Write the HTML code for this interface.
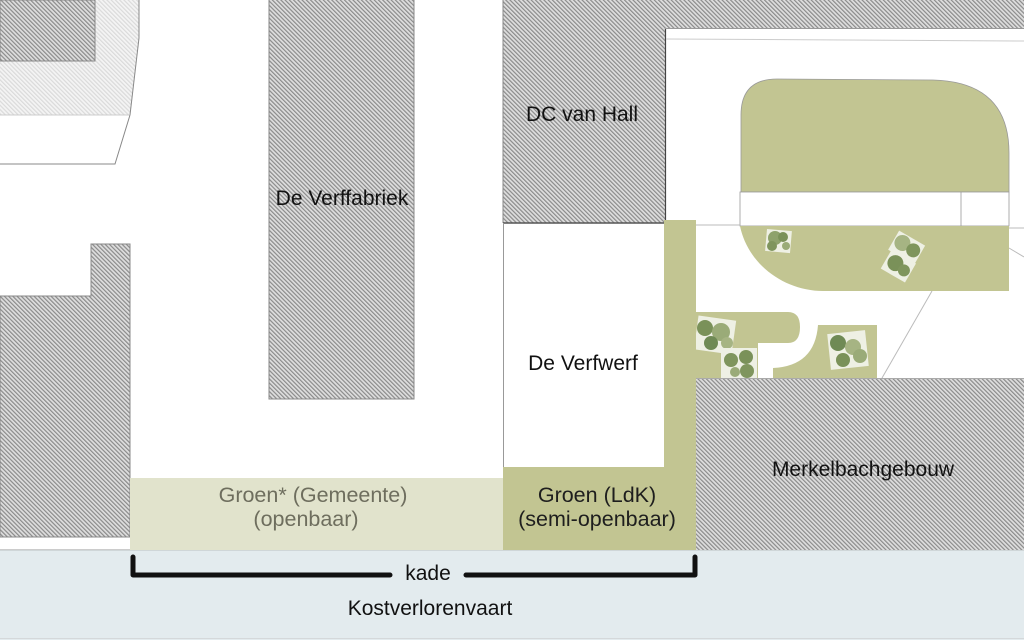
<!DOCTYPE html>
<html><head><meta charset="utf-8"><style>
html,body{margin:0;padding:0;background:#fff;}
svg{display:block;}
text{font-family:"Liberation Sans",sans-serif;}
</style></head><body>
<svg width="1024" height="640" viewBox="0 0 1024 640" xmlns="http://www.w3.org/2000/svg">
<defs>
<pattern id="h" width="3" height="3" patternUnits="userSpaceOnUse" patternTransform="rotate(-45)">
<rect width="3" height="3" fill="#dedede"/><rect width="1.2" height="3" fill="#8a8a8a"/>
</pattern>
<pattern id="hl" width="3" height="3" patternUnits="userSpaceOnUse" patternTransform="rotate(-45)">
<rect width="3" height="3" fill="#f4f4f4"/><rect width="1.2" height="3" fill="#dadada"/>
</pattern>
</defs>
<rect width="1024" height="640" fill="#fff"/>

<!-- top-left light hatched area -->
<path d="M0,0 L139,0 L139,38 L130,115 L0,115 Z" fill="url(#hl)"/>
<path d="M139,0 L139,38 L130,115" fill="none" stroke="#888" stroke-width="1"/>
<line x1="0" y1="115" x2="130" y2="115" stroke="#ccc" stroke-width="1"/>
<rect x="0" y="0" width="95" height="61" fill="url(#h)" stroke="#888" stroke-width="1"/>
<path d="M0,164 L115,164 L130,115" fill="none" stroke="#888" stroke-width="1"/>

<!-- left lower building -->
<path d="M0,296 L91,296 L91,244 L130,244 L130,537 L0,537 Z" fill="url(#h)" stroke="#888" stroke-width="1"/>
<line x1="0" y1="550" x2="130" y2="550" stroke="#999" stroke-width="1"/>

<!-- De Verffabriek -->
<rect x="269" y="-1" width="145" height="400" fill="url(#h)" stroke="#888" stroke-width="1"/>

<!-- DC van Hall + top strip -->
<rect x="503" y="0" width="162" height="223" fill="url(#h)"/>
<rect x="665" y="0" width="359" height="28" fill="url(#h)"/>
<line x1="503" y1="0" x2="503" y2="223" stroke="#888" stroke-width="1"/>
<line x1="503" y1="223" x2="665" y2="223" stroke="#555" stroke-width="1.5"/>
<line x1="665.5" y1="28" x2="665.5" y2="223" stroke="#444" stroke-width="1.2"/>
<line x1="665" y1="28.5" x2="1024" y2="28.5" stroke="#999" stroke-width="1"/>
<line x1="666" y1="39" x2="1024" y2="41" stroke="#ccc" stroke-width="1"/>

<!-- De Verfwerf border -->
<line x1="503.5" y1="223" x2="503.5" y2="468" stroke="#999" stroke-width="1"/>

<!-- courtyard green -->
<path d="M741,192 L741,115 Q741,79 777,79 L933,80 Q1009,82 1009,153 L1009,192 Z" fill="#c2c592" stroke="#999" stroke-width="0.8"/>
<rect x="740" y="192" width="269" height="34" fill="#fff" stroke="#999" stroke-width="0.8"/>
<line x1="961" y1="192" x2="961" y2="226" stroke="#999" stroke-width="0.8"/>
<path d="M740,226 L1009,226 L1009,291 L823,291 C785,291 748,265 740,226 Z" fill="#c2c592"/>
<line x1="696" y1="225" x2="740" y2="225" stroke="#bbb" stroke-width="1"/>
<line x1="1009" y1="228" x2="1024" y2="228" stroke="#bbb" stroke-width="1"/>
<line x1="1009" y1="248" x2="1024" y2="257" stroke="#bbb" stroke-width="1"/>
<line x1="932" y1="291" x2="882" y2="378" stroke="#bbb" stroke-width="1"/>

<!-- lower courtyard greens -->
<path d="M695,312 L788,312 Q800,312 800,327 Q800,343 788,343 L758,343 L758,378 L695,378 Z" fill="#c2c592"/>
<path d="M773,378 L773,368 Q815,366 818,325 L877,325 L877,378 Z" fill="#c2c592"/>

<!-- trees -->
<g>
<rect x="766" y="230" width="25" height="22" fill="#eef0e4" transform="rotate(5 778 241)"/>
<circle cx="775" cy="238" r="7" fill="#8ea26c"/><circle cx="783" cy="237" r="5" fill="#7a9159"/><circle cx="772" cy="246" r="5" fill="#7f955d"/><circle cx="786" cy="246" r="4" fill="#9aab78"/>
</g>
<g transform="rotate(30 903 256)">
<rect x="887" y="236" width="30" height="22" fill="#eef0e4"/>
<rect x="890" y="256" width="28" height="22" fill="#eef0e4"/>
<circle cx="896" cy="245" r="8" fill="#a6b483"/><circle cx="909" cy="246" r="7" fill="#7f955d"/><circle cx="900" cy="266" r="8" fill="#7a9159"/><circle cx="911" cy="268" r="6" fill="#7f955d"/>
</g>
<g>
<rect x="696" y="318" width="38" height="34" fill="#eef0e4" transform="rotate(8 715 335)"/>
<circle cx="705" cy="328" r="8" fill="#7a9159"/><circle cx="721" cy="332" r="9" fill="#9aab78"/><circle cx="711" cy="343" r="7" fill="#6f8a55"/><circle cx="727" cy="343" r="6" fill="#a6b483"/>
<rect x="721" y="348" width="36" height="30" fill="#eef0e4"/>
<circle cx="731" cy="360" r="7" fill="#7f955d"/><circle cx="746" cy="357" r="7" fill="#7a9159"/><circle cx="747" cy="371" r="7" fill="#7f955d"/><circle cx="735" cy="372" r="5" fill="#9aab78"/>
<rect x="829" y="332" width="38" height="36" fill="#eef0e4" transform="rotate(-6 848 350)"/>
<circle cx="838" cy="343" r="8" fill="#6f8a55"/><circle cx="853" cy="347" r="8" fill="#a6b483"/><circle cx="860" cy="356" r="7" fill="#9aab78"/><circle cx="843" cy="360" r="7" fill="#7a9159"/>
</g>

<!-- Merkelbachgebouw -->
<rect x="696" y="378" width="328" height="172" fill="url(#h)"/>
<line x1="696" y1="378.5" x2="1024" y2="378.5" stroke="#aaa" stroke-width="1"/>

<!-- Groen LdK -->
<path d="M664,220 L696,220 L696,550 L503,550 L503,467 L664,467 Z" fill="#c2c592"/>
<!-- Groen Gemeente -->
<rect x="130" y="478" width="373" height="72" fill="#e1e3cc"/>

<!-- water -->
<rect x="0" y="550" width="1024" height="90" fill="#e3ebee"/>
<line x1="0" y1="550.5" x2="1024" y2="550.5" stroke="#cfd6d8" stroke-width="1"/>
<line x1="0" y1="638.5" x2="1024" y2="638.5" stroke="#d4d8da" stroke-width="1"/>

<!-- bracket -->
<path d="M133,557 L133,575 L390,575 M466,575 L695,575 L695,557" fill="none" stroke="#111" stroke-width="5" stroke-linejoin="round" stroke-linecap="round"/>

<!-- labels -->
<g font-size="21" fill="#111" text-anchor="middle">
<text x="342" y="205">De Verffabriek</text>
<text x="582" y="121">DC van Hall</text>
<text x="583" y="370">De Verfwerf</text>
<text x="863" y="476">Merkelbachgebouw</text>
<text x="428" y="580">kade</text>
<text x="430" y="615">Kostverlorenvaart</text>
</g>
<g font-size="21.5" fill="#6e6e5e" text-anchor="middle">
<text x="313" y="502">Groen* (Gemeente)</text>
<text x="306" y="526">(openbaar)</text>
</g>
<g font-size="21.5" fill="#1e1e1e" text-anchor="middle">
<text x="597" y="502">Groen (LdK)</text>
<text x="597" y="526">(semi-openbaar)</text>
</g>
</svg>
</body></html>
